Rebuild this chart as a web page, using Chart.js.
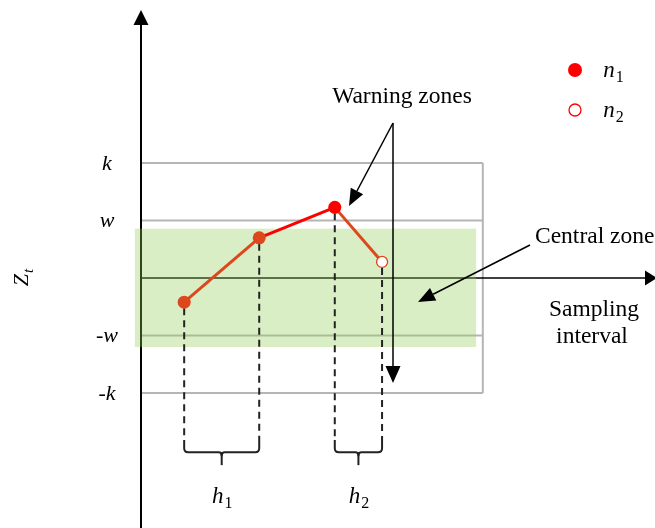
<!DOCTYPE html>
<html>
<head>
<meta charset="utf-8">
<script src="https://cdn.jsdelivr.net/npm/chart.js@4/dist/chart.umd.min.js"></script>
<style>
html, body { margin: 0; padding: 0; background: #fff; }
canvas { display: block; }
</style>
</head>
<body>
<canvas id="grafico" width="655" height="528"></canvas>
<script>
// samples: position along the sampling axis and Z_t value
const tiempos = [8.4, 23.0, 37.7, 46.9];
const valoresZ = [-0.42, 0.70, 1.23, 0.28];
const tipoMuestra = ['n1', 'n1', 'n1', 'n2'];

// control limits and their labels
const limites = [2, 1, -1, -2];
const etiquetasLimites = ['k', 'w', '-w', '-k'];

// central (green) zone and right end of the limit lines
const zonaCentralY = [-1.2, 0.86];
const zonaCentralX = [-1.2, 65.2];
const finLimites = 66.5;

// sampling intervals: [from sample, to sample, subscript]
const intervalos = [[0, 1, '1'], [2, 3, '2']];

const naranja = '#dc471c';
const rojo = '#ff0000';
const gris = '#b5b5b5';
const serif = '"Liberation Serif", "DejaVu Serif", serif';

function flecha(ctx, x1, y1, x2, y2, largo, ancho, grosor) {
  const ang = Math.atan2(y2 - y1, x2 - x1);
  const bx = x2 - largo * Math.cos(ang);
  const by = y2 - largo * Math.sin(ang);
  ctx.save();
  ctx.strokeStyle = '#000';
  ctx.fillStyle = '#000';
  ctx.lineWidth = grosor;
  ctx.beginPath();
  ctx.moveTo(x1, y1);
  ctx.lineTo(bx, by);
  ctx.stroke();
  ctx.beginPath();
  ctx.moveTo(x2, y2);
  ctx.lineTo(bx + ancho / 2 * Math.sin(ang), by - ancho / 2 * Math.cos(ang));
  ctx.lineTo(bx - ancho / 2 * Math.sin(ang), by + ancho / 2 * Math.cos(ang));
  ctx.closePath();
  ctx.fill();
  ctx.restore();
}

function textoSub(ctx, base, sub, x, y, tam, italSub) {
  ctx.font = 'italic ' + tam + 'px ' + serif;
  const w = ctx.measureText(base).width;
  ctx.font = (italSub ? 'italic ' : '') + Math.round(tam * 0.68) + 'px ' + serif;
  const ws = ctx.measureText(sub).width;
  const x0 = x - (w + ws) / 2;
  ctx.textAlign = 'left';
  ctx.textBaseline = 'alphabetic';
  ctx.font = 'italic ' + tam + 'px ' + serif;
  ctx.fillText(base, x0, y);
  ctx.font = (italSub ? 'italic ' : '') + Math.round(tam * 0.68) + 'px ' + serif;
  ctx.fillText(sub, x0 + w + 1, y + tam * 0.22);
}

const fondo = {
  id: 'fondo',
  beforeDatasetsDraw(chart) {
    const ctx = chart.ctx;
    const sx = chart.scales.x, sy = chart.scales.y;
    const px = v => sx.getPixelForValue(v);
    const py = v => sy.getPixelForValue(v);
    const x0 = px(0);

    ctx.save();
    // limit lines
    ctx.strokeStyle = gris;
    ctx.lineWidth = 2;
    limites.forEach(function(l) {
      ctx.beginPath();
      ctx.moveTo(x0, py(l));
      ctx.lineTo(px(finLimites), py(l));
      ctx.stroke();
    });
    ctx.beginPath();
    ctx.moveTo(px(finLimites), py(limites[0]));
    ctx.lineTo(px(finLimites), py(limites[limites.length - 1]));
    ctx.stroke();

    // axes
    flecha(ctx, x0, py(0), 657, py(0), 12, 15, 1.6);
    flecha(ctx, x0, chart.height, x0, 10, 15, 15, 2);

    // green central zone
    ctx.fillStyle = 'rgba(146, 205, 85, 0.34)';
    ctx.fillRect(px(zonaCentralX[0]), py(zonaCentralY[1]),
      px(zonaCentralX[1]) - px(zonaCentralX[0]), py(zonaCentralY[0]) - py(zonaCentralY[1]));

    // dashed drop lines and braces
    const yFinGuion = py(-2.82);
    const yLlave = py(-3.03);
    ctx.strokeStyle = '#222';
    ctx.lineWidth = 2;
    ctx.setLineDash([7, 5]);
    tiempos.forEach(function(t, i) {
      ctx.beginPath();
      ctx.moveTo(px(t), py(valoresZ[i]) + 6);
      ctx.lineTo(px(t), yFinGuion);
      ctx.stroke();
    });
    ctx.setLineDash([]);
    intervalos.forEach(function(iv) {
      const a = px(tiempos[iv[0]]), b = px(tiempos[iv[1]]);
      const m = (a + b) / 2;
      ctx.beginPath();
      ctx.moveTo(a, yFinGuion);
      ctx.lineTo(a, yLlave - 4);
      ctx.quadraticCurveTo(a, yLlave, a + 4, yLlave);
      ctx.lineTo(m - 3, yLlave);
      ctx.quadraticCurveTo(m, yLlave, m, yLlave + 4);
      ctx.quadraticCurveTo(m, yLlave, m + 3, yLlave);
      ctx.lineTo(b - 4, yLlave);
      ctx.quadraticCurveTo(b, yLlave, b, yLlave - 4);
      ctx.lineTo(b, yFinGuion);
      ctx.stroke();
      ctx.beginPath();
      ctx.moveTo(m, yLlave);
      ctx.lineTo(m, yLlave + 13);
      ctx.stroke();
      ctx.fillStyle = '#000';
      textoSub(ctx, 'h', iv[2], m, yLlave + 51, 23, false);
    });
    ctx.restore();
  },
  afterDatasetsDraw(chart) {
    const ctx = chart.ctx;
    const sy = chart.scales.y;
    ctx.save();
    ctx.fillStyle = '#000';

    // limit labels
    ctx.font = 'italic 22px ' + serif;
    ctx.textAlign = 'center';
    ctx.textBaseline = 'middle';
    limites.forEach(function(l, i) {
      ctx.fillText(etiquetasLimites[i], 107, sy.getPixelForValue(l) + 1);
    });

    // Z_t axis title
    ctx.save();
    ctx.translate(28, 278);
    ctx.rotate(-Math.PI / 2);
    textoSub(ctx, 'Z', 't', 0, 0, 22, true);
    ctx.restore();

    // annotations
    ctx.font = '23.5px ' + serif;
    ctx.textAlign = 'center';
    ctx.textBaseline = 'middle';
    ctx.fillText('Warning zones', 402, 97);
    ctx.textAlign = 'left';
    ctx.fillText('Central zone', 535, 237);
    ctx.textAlign = 'center';
    ctx.fillText('Sampling', 594, 310);
    ctx.fillText('interval', 592, 337);

    flecha(ctx, 393, 123, 349, 206, 17, 14, 1.5);
    flecha(ctx, 393, 123, 393, 383, 17, 15, 1.5);
    flecha(ctx, 530, 245, 418, 302, 17, 14, 1.5);

    // legend
    ctx.fillStyle = rojo;
    ctx.beginPath();
    ctx.arc(575, 70, 7, 0, Math.PI * 2);
    ctx.fill();
    ctx.fillStyle = '#fff';
    ctx.strokeStyle = rojo;
    ctx.lineWidth = 1.3;
    ctx.beginPath();
    ctx.arc(575, 110, 6, 0, Math.PI * 2);
    ctx.fill();
    ctx.stroke();
    ctx.fillStyle = '#000';
    textoSub(ctx, 'n', '1', 613, 77, 23, false);
    textoSub(ctx, 'n', '2', 613, 117, 23, false);
    ctx.restore();
  }
};

const puntos = tiempos.map(function(t, i) {
  return { x: t, y: valoresZ[i] };
});

new Chart(document.getElementById('grafico'), {
  type: 'scatter',
  data: {
    datasets: [{
      data: puntos,
      showLine: true,
      borderWidth: 3,
      borderColor: naranja,
      segment: {
        borderColor: function(c) { return c.p1DataIndex === 2 ? rojo : naranja; }
      },
      pointRadius: tipoMuestra.map(function(n) { return n === 'n1' ? 6.5 : 5.5; }),
      pointBorderWidth: tipoMuestra.map(function(n) { return n === 'n1' ? 0 : 1.3; }),
      pointBackgroundColor: tipoMuestra.map(function(n, i) {
        if (n === 'n2') return '#fff';
        return i === 2 ? rojo : naranja;
      }),
      pointBorderColor: naranja
    }]
  },
  options: {
    responsive: false,
    animation: false,
    layout: { autoPadding: false, padding: { left: 141, top: 12, right: 0, bottom: 0 } },
    plugins: { legend: { display: false }, tooltip: { enabled: false } },
    scales: {
      x: { type: 'linear', min: 0, max: 100, display: false },
      y: { type: 'linear', min: -4.35, max: 4.63, display: false }
    }
  },
  plugins: [fondo]
});
</script>
</body>
</html>
